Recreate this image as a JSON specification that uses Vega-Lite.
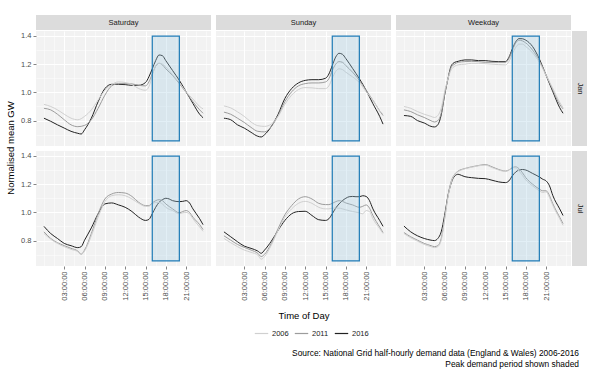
{
"$schema":"https://vega.github.io/schema/vega-lite/v6.json",
"padding":{"left":5,"top":15,"right":5,"bottom":5},
"background":"white",
"datasets":{
"peak":[{"hour":16,"hour2":20,"gw":0.657,"gw2":1.398}],
"demand":[
{"day":"Sat","month":"Jan","year":"2016","hour":0,"gw":0.817},{"day":"Sat","month":"Jan","year":"2016","hour":1,"gw":0.795},{"day":"Sat","month":"Jan","year":"2016","hour":2,"gw":0.77},{"day":"Sat","month":"Jan","year":"2016","hour":3,"gw":0.747},{"day":"Sat","month":"Jan","year":"2016","hour":4,"gw":0.724},{"day":"Sat","month":"Jan","year":"2016","hour":5,"gw":0.71},{"day":"Sat","month":"Jan","year":"2016","hour":5.5,"gw":0.705},{"day":"Sat","month":"Jan","year":"2016","hour":6,"gw":0.735},{"day":"Sat","month":"Jan","year":"2016","hour":7,"gw":0.817},{"day":"Sat","month":"Jan","year":"2016","hour":8,"gw":0.934},{"day":"Sat","month":"Jan","year":"2016","hour":9,"gw":1.027},{"day":"Sat","month":"Jan","year":"2016","hour":10,"gw":1.057},{"day":"Sat","month":"Jan","year":"2016","hour":11,"gw":1.057},{"day":"Sat","month":"Jan","year":"2016","hour":12,"gw":1.055},{"day":"Sat","month":"Jan","year":"2016","hour":13,"gw":1.05},{"day":"Sat","month":"Jan","year":"2016","hour":14,"gw":1.05},{"day":"Sat","month":"Jan","year":"2016","hour":15,"gw":1.07},{"day":"Sat","month":"Jan","year":"2016","hour":15.5,"gw":1.11},{"day":"Sat","month":"Jan","year":"2016","hour":16,"gw":1.167},{"day":"Sat","month":"Jan","year":"2016","hour":16.5,"gw":1.225},{"day":"Sat","month":"Jan","year":"2016","hour":17,"gw":1.265},{"day":"Sat","month":"Jan","year":"2016","hour":17.5,"gw":1.26},{"day":"Sat","month":"Jan","year":"2016","hour":18,"gw":1.225},{"day":"Sat","month":"Jan","year":"2016","hour":19,"gw":1.155},{"day":"Sat","month":"Jan","year":"2016","hour":20,"gw":1.085},{"day":"Sat","month":"Jan","year":"2016","hour":21,"gw":1.004},{"day":"Sat","month":"Jan","year":"2016","hour":22,"gw":0.922},{"day":"Sat","month":"Jan","year":"2016","hour":23,"gw":0.845},{"day":"Sat","month":"Jan","year":"2016","hour":23.5,"gw":0.82},
{"day":"Sat","month":"Jan","year":"2011","hour":0,"gw":0.887},{"day":"Sat","month":"Jan","year":"2011","hour":1,"gw":0.876},{"day":"Sat","month":"Jan","year":"2011","hour":2,"gw":0.845},{"day":"Sat","month":"Jan","year":"2011","hour":3,"gw":0.806},{"day":"Sat","month":"Jan","year":"2011","hour":4,"gw":0.77},{"day":"Sat","month":"Jan","year":"2011","hour":5,"gw":0.757},{"day":"Sat","month":"Jan","year":"2011","hour":6,"gw":0.766},{"day":"Sat","month":"Jan","year":"2011","hour":7,"gw":0.806},{"day":"Sat","month":"Jan","year":"2011","hour":8,"gw":0.887},{"day":"Sat","month":"Jan","year":"2011","hour":9,"gw":0.98},{"day":"Sat","month":"Jan","year":"2011","hour":10,"gw":1.046},{"day":"Sat","month":"Jan","year":"2011","hour":11,"gw":1.062},{"day":"Sat","month":"Jan","year":"2011","hour":12,"gw":1.062},{"day":"Sat","month":"Jan","year":"2011","hour":13,"gw":1.06},{"day":"Sat","month":"Jan","year":"2011","hour":14,"gw":1.05},{"day":"Sat","month":"Jan","year":"2011","hour":15,"gw":1.046},{"day":"Sat","month":"Jan","year":"2011","hour":15.5,"gw":1.074},{"day":"Sat","month":"Jan","year":"2011","hour":16,"gw":1.13},{"day":"Sat","month":"Jan","year":"2011","hour":16.5,"gw":1.185},{"day":"Sat","month":"Jan","year":"2011","hour":17,"gw":1.206},{"day":"Sat","month":"Jan","year":"2011","hour":17.5,"gw":1.195},{"day":"Sat","month":"Jan","year":"2011","hour":18,"gw":1.167},{"day":"Sat","month":"Jan","year":"2011","hour":19,"gw":1.12},{"day":"Sat","month":"Jan","year":"2011","hour":20,"gw":1.062},{"day":"Sat","month":"Jan","year":"2011","hour":21,"gw":1.0},{"day":"Sat","month":"Jan","year":"2011","hour":22,"gw":0.934},{"day":"Sat","month":"Jan","year":"2011","hour":23,"gw":0.876},{"day":"Sat","month":"Jan","year":"2011","hour":23.5,"gw":0.852},
{"day":"Sat","month":"Jan","year":"2006","hour":0,"gw":0.915},{"day":"Sat","month":"Jan","year":"2006","hour":1,"gw":0.9},{"day":"Sat","month":"Jan","year":"2006","hour":2,"gw":0.876},{"day":"Sat","month":"Jan","year":"2006","hour":3,"gw":0.845},{"day":"Sat","month":"Jan","year":"2006","hour":4,"gw":0.817},{"day":"Sat","month":"Jan","year":"2006","hour":5,"gw":0.806},{"day":"Sat","month":"Jan","year":"2006","hour":6,"gw":0.83},{"day":"Sat","month":"Jan","year":"2006","hour":7,"gw":0.876},{"day":"Sat","month":"Jan","year":"2006","hour":8,"gw":0.946},{"day":"Sat","month":"Jan","year":"2006","hour":9,"gw":1.015},{"day":"Sat","month":"Jan","year":"2006","hour":10,"gw":1.055},{"day":"Sat","month":"Jan","year":"2006","hour":11,"gw":1.074},{"day":"Sat","month":"Jan","year":"2006","hour":12,"gw":1.07},{"day":"Sat","month":"Jan","year":"2006","hour":13,"gw":1.055},{"day":"Sat","month":"Jan","year":"2006","hour":14,"gw":1.027},{"day":"Sat","month":"Jan","year":"2006","hour":15,"gw":1.015},{"day":"Sat","month":"Jan","year":"2006","hour":15.5,"gw":1.04},{"day":"Sat","month":"Jan","year":"2006","hour":16,"gw":1.12},{"day":"Sat","month":"Jan","year":"2006","hour":16.5,"gw":1.19},{"day":"Sat","month":"Jan","year":"2006","hour":17,"gw":1.206},{"day":"Sat","month":"Jan","year":"2006","hour":17.5,"gw":1.2},{"day":"Sat","month":"Jan","year":"2006","hour":18,"gw":1.18},{"day":"Sat","month":"Jan","year":"2006","hour":19,"gw":1.125},{"day":"Sat","month":"Jan","year":"2006","hour":20,"gw":1.07},{"day":"Sat","month":"Jan","year":"2006","hour":21,"gw":1.004},{"day":"Sat","month":"Jan","year":"2006","hour":22,"gw":0.953},{"day":"Sat","month":"Jan","year":"2006","hour":23,"gw":0.9},{"day":"Sat","month":"Jan","year":"2006","hour":23.5,"gw":0.883},
{"day":"Sun","month":"Jan","year":"2016","hour":0,"gw":0.817},{"day":"Sun","month":"Jan","year":"2016","hour":1,"gw":0.806},{"day":"Sun","month":"Jan","year":"2016","hour":2,"gw":0.77},{"day":"Sun","month":"Jan","year":"2016","hour":3,"gw":0.747},{"day":"Sun","month":"Jan","year":"2016","hour":4,"gw":0.717},{"day":"Sun","month":"Jan","year":"2016","hour":5,"gw":0.689},{"day":"Sun","month":"Jan","year":"2016","hour":5.5,"gw":0.684},{"day":"Sun","month":"Jan","year":"2016","hour":6,"gw":0.7},{"day":"Sun","month":"Jan","year":"2016","hour":7,"gw":0.759},{"day":"Sun","month":"Jan","year":"2016","hour":8,"gw":0.845},{"day":"Sun","month":"Jan","year":"2016","hour":9,"gw":0.957},{"day":"Sun","month":"Jan","year":"2016","hour":10,"gw":1.027},{"day":"Sun","month":"Jan","year":"2016","hour":11,"gw":1.067},{"day":"Sun","month":"Jan","year":"2016","hour":12,"gw":1.085},{"day":"Sun","month":"Jan","year":"2016","hour":13,"gw":1.09},{"day":"Sun","month":"Jan","year":"2016","hour":14,"gw":1.09},{"day":"Sun","month":"Jan","year":"2016","hour":15,"gw":1.1},{"day":"Sun","month":"Jan","year":"2016","hour":15.5,"gw":1.13},{"day":"Sun","month":"Jan","year":"2016","hour":16,"gw":1.19},{"day":"Sun","month":"Jan","year":"2016","hour":16.5,"gw":1.25},{"day":"Sun","month":"Jan","year":"2016","hour":17,"gw":1.277},{"day":"Sun","month":"Jan","year":"2016","hour":17.5,"gw":1.27},{"day":"Sun","month":"Jan","year":"2016","hour":18,"gw":1.24},{"day":"Sun","month":"Jan","year":"2016","hour":19,"gw":1.17},{"day":"Sun","month":"Jan","year":"2016","hour":20,"gw":1.097},{"day":"Sun","month":"Jan","year":"2016","hour":21,"gw":1.015},{"day":"Sun","month":"Jan","year":"2016","hour":22,"gw":0.92},{"day":"Sun","month":"Jan","year":"2016","hour":23,"gw":0.83},{"day":"Sun","month":"Jan","year":"2016","hour":23.5,"gw":0.775},
{"day":"Sun","month":"Jan","year":"2011","hour":0,"gw":0.86},{"day":"Sun","month":"Jan","year":"2011","hour":1,"gw":0.845},{"day":"Sun","month":"Jan","year":"2011","hour":2,"gw":0.817},{"day":"Sun","month":"Jan","year":"2011","hour":3,"gw":0.787},{"day":"Sun","month":"Jan","year":"2011","hour":4,"gw":0.752},{"day":"Sun","month":"Jan","year":"2011","hour":5,"gw":0.724},{"day":"Sun","month":"Jan","year":"2011","hour":6,"gw":0.72},{"day":"Sun","month":"Jan","year":"2011","hour":7,"gw":0.759},{"day":"Sun","month":"Jan","year":"2011","hour":8,"gw":0.836},{"day":"Sun","month":"Jan","year":"2011","hour":9,"gw":0.934},{"day":"Sun","month":"Jan","year":"2011","hour":10,"gw":1.004},{"day":"Sun","month":"Jan","year":"2011","hour":11,"gw":1.046},{"day":"Sun","month":"Jan","year":"2011","hour":12,"gw":1.062},{"day":"Sun","month":"Jan","year":"2011","hour":13,"gw":1.067},{"day":"Sun","month":"Jan","year":"2011","hour":14,"gw":1.067},{"day":"Sun","month":"Jan","year":"2011","hour":15,"gw":1.074},{"day":"Sun","month":"Jan","year":"2011","hour":15.5,"gw":1.097},{"day":"Sun","month":"Jan","year":"2011","hour":16,"gw":1.155},{"day":"Sun","month":"Jan","year":"2011","hour":16.5,"gw":1.2},{"day":"Sun","month":"Jan","year":"2011","hour":17,"gw":1.218},{"day":"Sun","month":"Jan","year":"2011","hour":17.5,"gw":1.213},{"day":"Sun","month":"Jan","year":"2011","hour":18,"gw":1.19},{"day":"Sun","month":"Jan","year":"2011","hour":19,"gw":1.143},{"day":"Sun","month":"Jan","year":"2011","hour":20,"gw":1.085},{"day":"Sun","month":"Jan","year":"2011","hour":21,"gw":1.015},{"day":"Sun","month":"Jan","year":"2011","hour":22,"gw":0.945},{"day":"Sun","month":"Jan","year":"2011","hour":23,"gw":0.869},{"day":"Sun","month":"Jan","year":"2011","hour":23.5,"gw":0.836},
{"day":"Sun","month":"Jan","year":"2006","hour":0,"gw":0.904},{"day":"Sun","month":"Jan","year":"2006","hour":1,"gw":0.89},{"day":"Sun","month":"Jan","year":"2006","hour":2,"gw":0.862},{"day":"Sun","month":"Jan","year":"2006","hour":3,"gw":0.83},{"day":"Sun","month":"Jan","year":"2006","hour":4,"gw":0.79},{"day":"Sun","month":"Jan","year":"2006","hour":5,"gw":0.764},{"day":"Sun","month":"Jan","year":"2006","hour":6,"gw":0.759},{"day":"Sun","month":"Jan","year":"2006","hour":7,"gw":0.775},{"day":"Sun","month":"Jan","year":"2006","hour":8,"gw":0.83},{"day":"Sun","month":"Jan","year":"2006","hour":9,"gw":0.915},{"day":"Sun","month":"Jan","year":"2006","hour":10,"gw":0.98},{"day":"Sun","month":"Jan","year":"2006","hour":11,"gw":1.02},{"day":"Sun","month":"Jan","year":"2006","hour":12,"gw":1.034},{"day":"Sun","month":"Jan","year":"2006","hour":13,"gw":1.032},{"day":"Sun","month":"Jan","year":"2006","hour":14,"gw":1.027},{"day":"Sun","month":"Jan","year":"2006","hour":15,"gw":1.027},{"day":"Sun","month":"Jan","year":"2006","hour":15.5,"gw":1.046},{"day":"Sun","month":"Jan","year":"2006","hour":16,"gw":1.1},{"day":"Sun","month":"Jan","year":"2006","hour":16.5,"gw":1.148},{"day":"Sun","month":"Jan","year":"2006","hour":17,"gw":1.167},{"day":"Sun","month":"Jan","year":"2006","hour":17.5,"gw":1.162},{"day":"Sun","month":"Jan","year":"2006","hour":18,"gw":1.143},{"day":"Sun","month":"Jan","year":"2006","hour":19,"gw":1.11},{"day":"Sun","month":"Jan","year":"2006","hour":20,"gw":1.07},{"day":"Sun","month":"Jan","year":"2006","hour":21,"gw":1.004},{"day":"Sun","month":"Jan","year":"2006","hour":22,"gw":0.945},{"day":"Sun","month":"Jan","year":"2006","hour":23,"gw":0.869},{"day":"Sun","month":"Jan","year":"2006","hour":23.5,"gw":0.845},
{"day":"Wkd","month":"Jan","year":"2016","hour":0,"gw":0.836},{"day":"Wkd","month":"Jan","year":"2016","hour":1,"gw":0.83},{"day":"Wkd","month":"Jan","year":"2016","hour":2,"gw":0.8},{"day":"Wkd","month":"Jan","year":"2016","hour":3,"gw":0.783},{"day":"Wkd","month":"Jan","year":"2016","hour":4,"gw":0.759},{"day":"Wkd","month":"Jan","year":"2016","hour":4.5,"gw":0.755},{"day":"Wkd","month":"Jan","year":"2016","hour":5,"gw":0.77},{"day":"Wkd","month":"Jan","year":"2016","hour":5.5,"gw":0.84},{"day":"Wkd","month":"Jan","year":"2016","hour":6,"gw":0.98},{"day":"Wkd","month":"Jan","year":"2016","hour":6.5,"gw":1.097},{"day":"Wkd","month":"Jan","year":"2016","hour":7,"gw":1.19},{"day":"Wkd","month":"Jan","year":"2016","hour":7.5,"gw":1.213},{"day":"Wkd","month":"Jan","year":"2016","hour":8,"gw":1.22},{"day":"Wkd","month":"Jan","year":"2016","hour":9,"gw":1.23},{"day":"Wkd","month":"Jan","year":"2016","hour":10,"gw":1.23},{"day":"Wkd","month":"Jan","year":"2016","hour":11,"gw":1.225},{"day":"Wkd","month":"Jan","year":"2016","hour":12,"gw":1.225},{"day":"Wkd","month":"Jan","year":"2016","hour":13,"gw":1.22},{"day":"Wkd","month":"Jan","year":"2016","hour":14,"gw":1.218},{"day":"Wkd","month":"Jan","year":"2016","hour":15,"gw":1.218},{"day":"Wkd","month":"Jan","year":"2016","hour":15.5,"gw":1.248},{"day":"Wkd","month":"Jan","year":"2016","hour":16,"gw":1.307},{"day":"Wkd","month":"Jan","year":"2016","hour":16.5,"gw":1.358},{"day":"Wkd","month":"Jan","year":"2016","hour":17,"gw":1.381},{"day":"Wkd","month":"Jan","year":"2016","hour":17.5,"gw":1.38},{"day":"Wkd","month":"Jan","year":"2016","hour":18,"gw":1.37},{"day":"Wkd","month":"Jan","year":"2016","hour":19,"gw":1.325},{"day":"Wkd","month":"Jan","year":"2016","hour":20,"gw":1.237},{"day":"Wkd","month":"Jan","year":"2016","hour":21,"gw":1.12},{"day":"Wkd","month":"Jan","year":"2016","hour":22,"gw":1.004},{"day":"Wkd","month":"Jan","year":"2016","hour":23,"gw":0.892},{"day":"Wkd","month":"Jan","year":"2016","hour":23.5,"gw":0.852},
{"day":"Wkd","month":"Jan","year":"2011","hour":0,"gw":0.876},{"day":"Wkd","month":"Jan","year":"2011","hour":1,"gw":0.864},{"day":"Wkd","month":"Jan","year":"2011","hour":2,"gw":0.841},{"day":"Wkd","month":"Jan","year":"2011","hour":3,"gw":0.822},{"day":"Wkd","month":"Jan","year":"2011","hour":4,"gw":0.799},{"day":"Wkd","month":"Jan","year":"2011","hour":4.5,"gw":0.79},{"day":"Wkd","month":"Jan","year":"2011","hour":5,"gw":0.8},{"day":"Wkd","month":"Jan","year":"2011","hour":5.5,"gw":0.85},{"day":"Wkd","month":"Jan","year":"2011","hour":6,"gw":0.98},{"day":"Wkd","month":"Jan","year":"2011","hour":6.5,"gw":1.097},{"day":"Wkd","month":"Jan","year":"2011","hour":7,"gw":1.18},{"day":"Wkd","month":"Jan","year":"2011","hour":7.5,"gw":1.2},{"day":"Wkd","month":"Jan","year":"2011","hour":8,"gw":1.213},{"day":"Wkd","month":"Jan","year":"2011","hour":9,"gw":1.218},{"day":"Wkd","month":"Jan","year":"2011","hour":10,"gw":1.22},{"day":"Wkd","month":"Jan","year":"2011","hour":11,"gw":1.218},{"day":"Wkd","month":"Jan","year":"2011","hour":12,"gw":1.213},{"day":"Wkd","month":"Jan","year":"2011","hour":13,"gw":1.213},{"day":"Wkd","month":"Jan","year":"2011","hour":14,"gw":1.213},{"day":"Wkd","month":"Jan","year":"2011","hour":15,"gw":1.213},{"day":"Wkd","month":"Jan","year":"2011","hour":15.5,"gw":1.24},{"day":"Wkd","month":"Jan","year":"2011","hour":16,"gw":1.295},{"day":"Wkd","month":"Jan","year":"2011","hour":16.5,"gw":1.35},{"day":"Wkd","month":"Jan","year":"2011","hour":17,"gw":1.37},{"day":"Wkd","month":"Jan","year":"2011","hour":17.5,"gw":1.365},{"day":"Wkd","month":"Jan","year":"2011","hour":18,"gw":1.35},{"day":"Wkd","month":"Jan","year":"2011","hour":19,"gw":1.3},{"day":"Wkd","month":"Jan","year":"2011","hour":20,"gw":1.225},{"day":"Wkd","month":"Jan","year":"2011","hour":21,"gw":1.125},{"day":"Wkd","month":"Jan","year":"2011","hour":22,"gw":1.015},{"day":"Wkd","month":"Jan","year":"2011","hour":23,"gw":0.915},{"day":"Wkd","month":"Jan","year":"2011","hour":23.5,"gw":0.883},
{"day":"Wkd","month":"Jan","year":"2006","hour":0,"gw":0.9},{"day":"Wkd","month":"Jan","year":"2006","hour":1,"gw":0.887},{"day":"Wkd","month":"Jan","year":"2006","hour":2,"gw":0.864},{"day":"Wkd","month":"Jan","year":"2006","hour":3,"gw":0.845},{"day":"Wkd","month":"Jan","year":"2006","hour":4,"gw":0.83},{"day":"Wkd","month":"Jan","year":"2006","hour":4.5,"gw":0.822},{"day":"Wkd","month":"Jan","year":"2006","hour":5,"gw":0.836},{"day":"Wkd","month":"Jan","year":"2006","hour":5.5,"gw":0.887},{"day":"Wkd","month":"Jan","year":"2006","hour":6,"gw":1.004},{"day":"Wkd","month":"Jan","year":"2006","hour":6.5,"gw":1.097},{"day":"Wkd","month":"Jan","year":"2006","hour":7,"gw":1.162},{"day":"Wkd","month":"Jan","year":"2006","hour":7.5,"gw":1.185},{"day":"Wkd","month":"Jan","year":"2006","hour":8,"gw":1.195},{"day":"Wkd","month":"Jan","year":"2006","hour":9,"gw":1.2},{"day":"Wkd","month":"Jan","year":"2006","hour":10,"gw":1.206},{"day":"Wkd","month":"Jan","year":"2006","hour":11,"gw":1.206},{"day":"Wkd","month":"Jan","year":"2006","hour":12,"gw":1.204},{"day":"Wkd","month":"Jan","year":"2006","hour":13,"gw":1.2},{"day":"Wkd","month":"Jan","year":"2006","hour":14,"gw":1.197},{"day":"Wkd","month":"Jan","year":"2006","hour":15,"gw":1.195},{"day":"Wkd","month":"Jan","year":"2006","hour":15.5,"gw":1.218},{"day":"Wkd","month":"Jan","year":"2006","hour":16,"gw":1.272},{"day":"Wkd","month":"Jan","year":"2006","hour":16.5,"gw":1.318},{"day":"Wkd","month":"Jan","year":"2006","hour":17,"gw":1.342},{"day":"Wkd","month":"Jan","year":"2006","hour":17.5,"gw":1.342},{"day":"Wkd","month":"Jan","year":"2006","hour":18,"gw":1.325},{"day":"Wkd","month":"Jan","year":"2006","hour":19,"gw":1.28},{"day":"Wkd","month":"Jan","year":"2006","hour":20,"gw":1.213},{"day":"Wkd","month":"Jan","year":"2006","hour":21,"gw":1.12},{"day":"Wkd","month":"Jan","year":"2006","hour":22,"gw":1.027},{"day":"Wkd","month":"Jan","year":"2006","hour":23,"gw":0.93},{"day":"Wkd","month":"Jan","year":"2006","hour":23.5,"gw":0.892},
{"day":"Sat","month":"Jul","year":"2016","hour":0,"gw":0.901},{"day":"Sat","month":"Jul","year":"2016","hour":1,"gw":0.85},{"day":"Sat","month":"Jul","year":"2016","hour":2,"gw":0.815},{"day":"Sat","month":"Jul","year":"2016","hour":3,"gw":0.78},{"day":"Sat","month":"Jul","year":"2016","hour":4,"gw":0.764},{"day":"Sat","month":"Jul","year":"2016","hour":5,"gw":0.75},{"day":"Sat","month":"Jul","year":"2016","hour":5.5,"gw":0.757},{"day":"Sat","month":"Jul","year":"2016","hour":6,"gw":0.803},{"day":"Sat","month":"Jul","year":"2016","hour":7,"gw":0.89},{"day":"Sat","month":"Jul","year":"2016","hour":8,"gw":0.99},{"day":"Sat","month":"Jul","year":"2016","hour":9,"gw":1.06},{"day":"Sat","month":"Jul","year":"2016","hour":10,"gw":1.067},{"day":"Sat","month":"Jul","year":"2016","hour":11,"gw":1.053},{"day":"Sat","month":"Jul","year":"2016","hour":12,"gw":1.036},{"day":"Sat","month":"Jul","year":"2016","hour":13,"gw":1.006},{"day":"Sat","month":"Jul","year":"2016","hour":14,"gw":0.966},{"day":"Sat","month":"Jul","year":"2016","hour":15,"gw":0.943},{"day":"Sat","month":"Jul","year":"2016","hour":15.5,"gw":0.95},{"day":"Sat","month":"Jul","year":"2016","hour":16,"gw":0.99},{"day":"Sat","month":"Jul","year":"2016","hour":16.5,"gw":1.036},{"day":"Sat","month":"Jul","year":"2016","hour":17,"gw":1.071},{"day":"Sat","month":"Jul","year":"2016","hour":17.5,"gw":1.09},{"day":"Sat","month":"Jul","year":"2016","hour":18,"gw":1.1},{"day":"Sat","month":"Jul","year":"2016","hour":18.5,"gw":1.095},{"day":"Sat","month":"Jul","year":"2016","hour":19,"gw":1.083},{"day":"Sat","month":"Jul","year":"2016","hour":20,"gw":1.076},{"day":"Sat","month":"Jul","year":"2016","hour":20.5,"gw":1.078},{"day":"Sat","month":"Jul","year":"2016","hour":21,"gw":1.083},{"day":"Sat","month":"Jul","year":"2016","hour":21.5,"gw":1.067},{"day":"Sat","month":"Jul","year":"2016","hour":22,"gw":1.025},{"day":"Sat","month":"Jul","year":"2016","hour":23,"gw":0.955},{"day":"Sat","month":"Jul","year":"2016","hour":23.5,"gw":0.913},
{"day":"Sat","month":"Jul","year":"2011","hour":0,"gw":0.862},{"day":"Sat","month":"Jul","year":"2011","hour":1,"gw":0.815},{"day":"Sat","month":"Jul","year":"2011","hour":2,"gw":0.785},{"day":"Sat","month":"Jul","year":"2011","hour":3,"gw":0.764},{"day":"Sat","month":"Jul","year":"2011","hour":4,"gw":0.745},{"day":"Sat","month":"Jul","year":"2011","hour":5,"gw":0.726},{"day":"Sat","month":"Jul","year":"2011","hour":5.5,"gw":0.703},{"day":"Sat","month":"Jul","year":"2011","hour":6,"gw":0.733},{"day":"Sat","month":"Jul","year":"2011","hour":7,"gw":0.85},{"day":"Sat","month":"Jul","year":"2011","hour":8,"gw":0.99},{"day":"Sat","month":"Jul","year":"2011","hour":9,"gw":1.095},{"day":"Sat","month":"Jul","year":"2011","hour":10,"gw":1.13},{"day":"Sat","month":"Jul","year":"2011","hour":11,"gw":1.141},{"day":"Sat","month":"Jul","year":"2011","hour":12,"gw":1.137},{"day":"Sat","month":"Jul","year":"2011","hour":13,"gw":1.113},{"day":"Sat","month":"Jul","year":"2011","hour":14,"gw":1.071},{"day":"Sat","month":"Jul","year":"2011","hour":15,"gw":1.048},{"day":"Sat","month":"Jul","year":"2011","hour":15.5,"gw":1.048},{"day":"Sat","month":"Jul","year":"2011","hour":16,"gw":1.067},{"day":"Sat","month":"Jul","year":"2011","hour":16.5,"gw":1.083},{"day":"Sat","month":"Jul","year":"2011","hour":17,"gw":1.09},{"day":"Sat","month":"Jul","year":"2011","hour":17.5,"gw":1.083},{"day":"Sat","month":"Jul","year":"2011","hour":18,"gw":1.06},{"day":"Sat","month":"Jul","year":"2011","hour":19,"gw":1.025},{"day":"Sat","month":"Jul","year":"2011","hour":20,"gw":0.997},{"day":"Sat","month":"Jul","year":"2011","hour":20.5,"gw":1.006},{"day":"Sat","month":"Jul","year":"2011","hour":21,"gw":1.013},{"day":"Sat","month":"Jul","year":"2011","hour":21.5,"gw":1.0},{"day":"Sat","month":"Jul","year":"2011","hour":22,"gw":0.966},{"day":"Sat","month":"Jul","year":"2011","hour":23,"gw":0.913},{"day":"Sat","month":"Jul","year":"2011","hour":23.5,"gw":0.878},
{"day":"Sat","month":"Jul","year":"2006","hour":0,"gw":0.85},{"day":"Sat","month":"Jul","year":"2006","hour":1,"gw":0.81},{"day":"Sat","month":"Jul","year":"2006","hour":2,"gw":0.78},{"day":"Sat","month":"Jul","year":"2006","hour":3,"gw":0.757},{"day":"Sat","month":"Jul","year":"2006","hour":4,"gw":0.738},{"day":"Sat","month":"Jul","year":"2006","hour":5,"gw":0.722},{"day":"Sat","month":"Jul","year":"2006","hour":5.5,"gw":0.703},{"day":"Sat","month":"Jul","year":"2006","hour":6,"gw":0.726},{"day":"Sat","month":"Jul","year":"2006","hour":7,"gw":0.834},{"day":"Sat","month":"Jul","year":"2006","hour":8,"gw":0.966},{"day":"Sat","month":"Jul","year":"2006","hour":9,"gw":1.076},{"day":"Sat","month":"Jul","year":"2006","hour":10,"gw":1.118},{"day":"Sat","month":"Jul","year":"2006","hour":11,"gw":1.125},{"day":"Sat","month":"Jul","year":"2006","hour":12,"gw":1.118},{"day":"Sat","month":"Jul","year":"2006","hour":13,"gw":1.095},{"day":"Sat","month":"Jul","year":"2006","hour":14,"gw":1.064},{"day":"Sat","month":"Jul","year":"2006","hour":15,"gw":1.043},{"day":"Sat","month":"Jul","year":"2006","hour":15.5,"gw":1.043},{"day":"Sat","month":"Jul","year":"2006","hour":16,"gw":1.06},{"day":"Sat","month":"Jul","year":"2006","hour":16.5,"gw":1.071},{"day":"Sat","month":"Jul","year":"2006","hour":17,"gw":1.071},{"day":"Sat","month":"Jul","year":"2006","hour":17.5,"gw":1.06},{"day":"Sat","month":"Jul","year":"2006","hour":18,"gw":1.036},{"day":"Sat","month":"Jul","year":"2006","hour":19,"gw":1.013},{"day":"Sat","month":"Jul","year":"2006","hour":20,"gw":0.99},{"day":"Sat","month":"Jul","year":"2006","hour":20.5,"gw":0.997},{"day":"Sat","month":"Jul","year":"2006","hour":21,"gw":1.0},{"day":"Sat","month":"Jul","year":"2006","hour":21.5,"gw":0.99},{"day":"Sat","month":"Jul","year":"2006","hour":22,"gw":0.955},{"day":"Sat","month":"Jul","year":"2006","hour":23,"gw":0.896},{"day":"Sat","month":"Jul","year":"2006","hour":23.5,"gw":0.866},
{"day":"Sun","month":"Jul","year":"2016","hour":0,"gw":0.862},{"day":"Sun","month":"Jul","year":"2016","hour":1,"gw":0.827},{"day":"Sun","month":"Jul","year":"2016","hour":2,"gw":0.792},{"day":"Sun","month":"Jul","year":"2016","hour":3,"gw":0.761},{"day":"Sun","month":"Jul","year":"2016","hour":4,"gw":0.745},{"day":"Sun","month":"Jul","year":"2016","hour":5,"gw":0.726},{"day":"Sun","month":"Jul","year":"2016","hour":5.5,"gw":0.71},{"day":"Sun","month":"Jul","year":"2016","hour":6,"gw":0.733},{"day":"Sun","month":"Jul","year":"2016","hour":7,"gw":0.796},{"day":"Sun","month":"Jul","year":"2016","hour":8,"gw":0.873},{"day":"Sun","month":"Jul","year":"2016","hour":9,"gw":0.943},{"day":"Sun","month":"Jul","year":"2016","hour":10,"gw":0.99},{"day":"Sun","month":"Jul","year":"2016","hour":11,"gw":1.006},{"day":"Sun","month":"Jul","year":"2016","hour":12,"gw":1.008},{"day":"Sun","month":"Jul","year":"2016","hour":13,"gw":0.978},{"day":"Sun","month":"Jul","year":"2016","hour":14,"gw":0.948},{"day":"Sun","month":"Jul","year":"2016","hour":15,"gw":0.943},{"day":"Sun","month":"Jul","year":"2016","hour":15.5,"gw":0.955},{"day":"Sun","month":"Jul","year":"2016","hour":16,"gw":0.99},{"day":"Sun","month":"Jul","year":"2016","hour":16.5,"gw":1.03},{"day":"Sun","month":"Jul","year":"2016","hour":17,"gw":1.06},{"day":"Sun","month":"Jul","year":"2016","hour":17.5,"gw":1.083},{"day":"Sun","month":"Jul","year":"2016","hour":18,"gw":1.1},{"day":"Sun","month":"Jul","year":"2016","hour":18.5,"gw":1.111},{"day":"Sun","month":"Jul","year":"2016","hour":19,"gw":1.113},{"day":"Sun","month":"Jul","year":"2016","hour":19.5,"gw":1.111},{"day":"Sun","month":"Jul","year":"2016","hour":20,"gw":1.111},{"day":"Sun","month":"Jul","year":"2016","hour":20.5,"gw":1.118},{"day":"Sun","month":"Jul","year":"2016","hour":21,"gw":1.113},{"day":"Sun","month":"Jul","year":"2016","hour":21.5,"gw":1.083},{"day":"Sun","month":"Jul","year":"2016","hour":22,"gw":1.025},{"day":"Sun","month":"Jul","year":"2016","hour":23,"gw":0.943},{"day":"Sun","month":"Jul","year":"2016","hour":23.5,"gw":0.901},
{"day":"Sun","month":"Jul","year":"2011","hour":0,"gw":0.834},{"day":"Sun","month":"Jul","year":"2011","hour":1,"gw":0.803},{"day":"Sun","month":"Jul","year":"2011","hour":2,"gw":0.773},{"day":"Sun","month":"Jul","year":"2011","hour":3,"gw":0.752},{"day":"Sun","month":"Jul","year":"2011","hour":4,"gw":0.733},{"day":"Sun","month":"Jul","year":"2011","hour":5,"gw":0.71},{"day":"Sun","month":"Jul","year":"2011","hour":5.5,"gw":0.687},{"day":"Sun","month":"Jul","year":"2011","hour":6,"gw":0.703},{"day":"Sun","month":"Jul","year":"2011","hour":7,"gw":0.78},{"day":"Sun","month":"Jul","year":"2011","hour":8,"gw":0.885},{"day":"Sun","month":"Jul","year":"2011","hour":9,"gw":0.983},{"day":"Sun","month":"Jul","year":"2011","hour":10,"gw":1.048},{"day":"Sun","month":"Jul","year":"2011","hour":11,"gw":1.095},{"day":"Sun","month":"Jul","year":"2011","hour":12,"gw":1.111},{"day":"Sun","month":"Jul","year":"2011","hour":13,"gw":1.095},{"day":"Sun","month":"Jul","year":"2011","hour":14,"gw":1.064},{"day":"Sun","month":"Jul","year":"2011","hour":15,"gw":1.055},{"day":"Sun","month":"Jul","year":"2011","hour":15.5,"gw":1.055},{"day":"Sun","month":"Jul","year":"2011","hour":16,"gw":1.064},{"day":"Sun","month":"Jul","year":"2011","hour":16.5,"gw":1.076},{"day":"Sun","month":"Jul","year":"2011","hour":17,"gw":1.083},{"day":"Sun","month":"Jul","year":"2011","hour":17.5,"gw":1.078},{"day":"Sun","month":"Jul","year":"2011","hour":18,"gw":1.067},{"day":"Sun","month":"Jul","year":"2011","hour":19,"gw":1.053},{"day":"Sun","month":"Jul","year":"2011","hour":20,"gw":1.036},{"day":"Sun","month":"Jul","year":"2011","hour":20.5,"gw":1.043},{"day":"Sun","month":"Jul","year":"2011","hour":21,"gw":1.053},{"day":"Sun","month":"Jul","year":"2011","hour":21.5,"gw":1.03},{"day":"Sun","month":"Jul","year":"2011","hour":22,"gw":0.978},{"day":"Sun","month":"Jul","year":"2011","hour":23,"gw":0.896},{"day":"Sun","month":"Jul","year":"2011","hour":23.5,"gw":0.857},
{"day":"Sun","month":"Jul","year":"2006","hour":0,"gw":0.815},{"day":"Sun","month":"Jul","year":"2006","hour":1,"gw":0.785},{"day":"Sun","month":"Jul","year":"2006","hour":2,"gw":0.757},{"day":"Sun","month":"Jul","year":"2006","hour":3,"gw":0.733},{"day":"Sun","month":"Jul","year":"2006","hour":4,"gw":0.717},{"day":"Sun","month":"Jul","year":"2006","hour":5,"gw":0.698},{"day":"Sun","month":"Jul","year":"2006","hour":5.5,"gw":0.668},{"day":"Sun","month":"Jul","year":"2006","hour":6,"gw":0.687},{"day":"Sun","month":"Jul","year":"2006","hour":7,"gw":0.768},{"day":"Sun","month":"Jul","year":"2006","hour":8,"gw":0.873},{"day":"Sun","month":"Jul","year":"2006","hour":9,"gw":0.966},{"day":"Sun","month":"Jul","year":"2006","hour":10,"gw":1.025},{"day":"Sun","month":"Jul","year":"2006","hour":11,"gw":1.064},{"day":"Sun","month":"Jul","year":"2006","hour":12,"gw":1.078},{"day":"Sun","month":"Jul","year":"2006","hour":13,"gw":1.064},{"day":"Sun","month":"Jul","year":"2006","hour":14,"gw":1.036},{"day":"Sun","month":"Jul","year":"2006","hour":15,"gw":1.025},{"day":"Sun","month":"Jul","year":"2006","hour":15.5,"gw":1.025},{"day":"Sun","month":"Jul","year":"2006","hour":16,"gw":1.03},{"day":"Sun","month":"Jul","year":"2006","hour":16.5,"gw":1.03},{"day":"Sun","month":"Jul","year":"2006","hour":17,"gw":1.03},{"day":"Sun","month":"Jul","year":"2006","hour":17.5,"gw":1.025},{"day":"Sun","month":"Jul","year":"2006","hour":18,"gw":1.018},{"day":"Sun","month":"Jul","year":"2006","hour":19,"gw":1.006},{"day":"Sun","month":"Jul","year":"2006","hour":20,"gw":0.997},{"day":"Sun","month":"Jul","year":"2006","hour":20.5,"gw":0.99},{"day":"Sun","month":"Jul","year":"2006","hour":21,"gw":1.013},{"day":"Sun","month":"Jul","year":"2006","hour":21.5,"gw":1.006},{"day":"Sun","month":"Jul","year":"2006","hour":22,"gw":0.955},{"day":"Sun","month":"Jul","year":"2006","hour":23,"gw":0.885},{"day":"Sun","month":"Jul","year":"2006","hour":23.5,"gw":0.85},
{"day":"Wkd","month":"Jul","year":"2016","hour":0,"gw":0.903},{"day":"Wkd","month":"Jul","year":"2016","hour":1,"gw":0.862},{"day":"Wkd","month":"Jul","year":"2016","hour":2,"gw":0.834},{"day":"Wkd","month":"Jul","year":"2016","hour":3,"gw":0.815},{"day":"Wkd","month":"Jul","year":"2016","hour":4,"gw":0.803},{"day":"Wkd","month":"Jul","year":"2016","hour":4.5,"gw":0.8},{"day":"Wkd","month":"Jul","year":"2016","hour":5,"gw":0.815},{"day":"Wkd","month":"Jul","year":"2016","hour":5.5,"gw":0.862},{"day":"Wkd","month":"Jul","year":"2016","hour":6,"gw":0.978},{"day":"Wkd","month":"Jul","year":"2016","hour":6.5,"gw":1.118},{"day":"Wkd","month":"Jul","year":"2016","hour":7,"gw":1.211},{"day":"Wkd","month":"Jul","year":"2016","hour":7.5,"gw":1.258},{"day":"Wkd","month":"Jul","year":"2016","hour":8,"gw":1.27},{"day":"Wkd","month":"Jul","year":"2016","hour":8.5,"gw":1.262},{"day":"Wkd","month":"Jul","year":"2016","hour":9,"gw":1.253},{"day":"Wkd","month":"Jul","year":"2016","hour":10,"gw":1.246},{"day":"Wkd","month":"Jul","year":"2016","hour":11,"gw":1.241},{"day":"Wkd","month":"Jul","year":"2016","hour":12,"gw":1.239},{"day":"Wkd","month":"Jul","year":"2016","hour":13,"gw":1.228},{"day":"Wkd","month":"Jul","year":"2016","hour":14,"gw":1.216},{"day":"Wkd","month":"Jul","year":"2016","hour":15,"gw":1.211},{"day":"Wkd","month":"Jul","year":"2016","hour":15.5,"gw":1.223},{"day":"Wkd","month":"Jul","year":"2016","hour":16,"gw":1.258},{"day":"Wkd","month":"Jul","year":"2016","hour":16.5,"gw":1.286},{"day":"Wkd","month":"Jul","year":"2016","hour":17,"gw":1.3},{"day":"Wkd","month":"Jul","year":"2016","hour":17.5,"gw":1.304},{"day":"Wkd","month":"Jul","year":"2016","hour":18,"gw":1.3},{"day":"Wkd","month":"Jul","year":"2016","hour":19,"gw":1.276},{"day":"Wkd","month":"Jul","year":"2016","hour":20,"gw":1.251},{"day":"Wkd","month":"Jul","year":"2016","hour":20.5,"gw":1.235},{"day":"Wkd","month":"Jul","year":"2016","hour":21,"gw":1.223},{"day":"Wkd","month":"Jul","year":"2016","hour":21.5,"gw":1.188},{"day":"Wkd","month":"Jul","year":"2016","hour":22,"gw":1.118},{"day":"Wkd","month":"Jul","year":"2016","hour":23,"gw":1.025},{"day":"Wkd","month":"Jul","year":"2016","hour":23.5,"gw":0.978},
{"day":"Wkd","month":"Jul","year":"2011","hour":0,"gw":0.857},{"day":"Wkd","month":"Jul","year":"2011","hour":1,"gw":0.827},{"day":"Wkd","month":"Jul","year":"2011","hour":2,"gw":0.803},{"day":"Wkd","month":"Jul","year":"2011","hour":3,"gw":0.78},{"day":"Wkd","month":"Jul","year":"2011","hour":4,"gw":0.764},{"day":"Wkd","month":"Jul","year":"2011","hour":4.5,"gw":0.757},{"day":"Wkd","month":"Jul","year":"2011","hour":5,"gw":0.764},{"day":"Wkd","month":"Jul","year":"2011","hour":5.5,"gw":0.815},{"day":"Wkd","month":"Jul","year":"2011","hour":6,"gw":0.955},{"day":"Wkd","month":"Jul","year":"2011","hour":6.5,"gw":1.118},{"day":"Wkd","month":"Jul","year":"2011","hour":7,"gw":1.223},{"day":"Wkd","month":"Jul","year":"2011","hour":7.5,"gw":1.27},{"day":"Wkd","month":"Jul","year":"2011","hour":8,"gw":1.293},{"day":"Wkd","month":"Jul","year":"2011","hour":8.5,"gw":1.304},{"day":"Wkd","month":"Jul","year":"2011","hour":9,"gw":1.311},{"day":"Wkd","month":"Jul","year":"2011","hour":10,"gw":1.323},{"day":"Wkd","month":"Jul","year":"2011","hour":11,"gw":1.332},{"day":"Wkd","month":"Jul","year":"2011","hour":12,"gw":1.339},{"day":"Wkd","month":"Jul","year":"2011","hour":13,"gw":1.323},{"day":"Wkd","month":"Jul","year":"2011","hour":14,"gw":1.304},{"day":"Wkd","month":"Jul","year":"2011","hour":15,"gw":1.293},{"day":"Wkd","month":"Jul","year":"2011","hour":15.5,"gw":1.3},{"day":"Wkd","month":"Jul","year":"2011","hour":16,"gw":1.316},{"day":"Wkd","month":"Jul","year":"2011","hour":16.5,"gw":1.323},{"day":"Wkd","month":"Jul","year":"2011","hour":17,"gw":1.309},{"day":"Wkd","month":"Jul","year":"2011","hour":17.5,"gw":1.281},{"day":"Wkd","month":"Jul","year":"2011","hour":18,"gw":1.246},{"day":"Wkd","month":"Jul","year":"2011","hour":19,"gw":1.2},{"day":"Wkd","month":"Jul","year":"2011","hour":20,"gw":1.165},{"day":"Wkd","month":"Jul","year":"2011","hour":20.5,"gw":1.153},{"day":"Wkd","month":"Jul","year":"2011","hour":21,"gw":1.153},{"day":"Wkd","month":"Jul","year":"2011","hour":21.5,"gw":1.118},{"day":"Wkd","month":"Jul","year":"2011","hour":22,"gw":1.06},{"day":"Wkd","month":"Jul","year":"2011","hour":23,"gw":0.966},{"day":"Wkd","month":"Jul","year":"2011","hour":23.5,"gw":0.92},
{"day":"Wkd","month":"Jul","year":"2006","hour":0,"gw":0.85},{"day":"Wkd","month":"Jul","year":"2006","hour":1,"gw":0.82},{"day":"Wkd","month":"Jul","year":"2006","hour":2,"gw":0.796},{"day":"Wkd","month":"Jul","year":"2006","hour":3,"gw":0.773},{"day":"Wkd","month":"Jul","year":"2006","hour":4,"gw":0.757},{"day":"Wkd","month":"Jul","year":"2006","hour":4.5,"gw":0.75},{"day":"Wkd","month":"Jul","year":"2006","hour":5,"gw":0.757},{"day":"Wkd","month":"Jul","year":"2006","hour":5.5,"gw":0.803},{"day":"Wkd","month":"Jul","year":"2006","hour":6,"gw":0.943},{"day":"Wkd","month":"Jul","year":"2006","hour":6.5,"gw":1.106},{"day":"Wkd","month":"Jul","year":"2006","hour":7,"gw":1.216},{"day":"Wkd","month":"Jul","year":"2006","hour":7.5,"gw":1.267},{"day":"Wkd","month":"Jul","year":"2006","hour":8,"gw":1.29},{"day":"Wkd","month":"Jul","year":"2006","hour":8.5,"gw":1.3},{"day":"Wkd","month":"Jul","year":"2006","hour":9,"gw":1.309},{"day":"Wkd","month":"Jul","year":"2006","hour":10,"gw":1.32},{"day":"Wkd","month":"Jul","year":"2006","hour":11,"gw":1.33},{"day":"Wkd","month":"Jul","year":"2006","hour":12,"gw":1.335},{"day":"Wkd","month":"Jul","year":"2006","hour":13,"gw":1.318},{"day":"Wkd","month":"Jul","year":"2006","hour":14,"gw":1.3},{"day":"Wkd","month":"Jul","year":"2006","hour":15,"gw":1.29},{"day":"Wkd","month":"Jul","year":"2006","hour":15.5,"gw":1.3},{"day":"Wkd","month":"Jul","year":"2006","hour":16,"gw":1.318},{"day":"Wkd","month":"Jul","year":"2006","hour":16.5,"gw":1.316},{"day":"Wkd","month":"Jul","year":"2006","hour":17,"gw":1.293},{"day":"Wkd","month":"Jul","year":"2006","hour":17.5,"gw":1.262},{"day":"Wkd","month":"Jul","year":"2006","hour":18,"gw":1.23},{"day":"Wkd","month":"Jul","year":"2006","hour":19,"gw":1.188},{"day":"Wkd","month":"Jul","year":"2006","hour":20,"gw":1.153},{"day":"Wkd","month":"Jul","year":"2006","hour":20.5,"gw":1.141},{"day":"Wkd","month":"Jul","year":"2006","hour":21,"gw":1.146},{"day":"Wkd","month":"Jul","year":"2006","hour":21.5,"gw":1.106},{"day":"Wkd","month":"Jul","year":"2006","hour":22,"gw":1.048},{"day":"Wkd","month":"Jul","year":"2006","hour":23,"gw":0.955},{"day":"Wkd","month":"Jul","year":"2006","hour":23.5,"gw":0.908}
]},
"columns":6,
"spacing":1,
"align":"each",
"bounds":"flush",
"resolve":{"scale":{"color":"shared"},"legend":{"color":"shared"}},
"concat":[
{"width":175,"height":15,"view":{"fill":"#dcdcdc","stroke":null},"data":{"values":[{"lab":"Saturday"}]},"mark":{"type":"text","fontSize":7.5,"color":"#1a1a1a"},"encoding":{"text":{"field":"lab"}}},
{"width":3,"height":1,"data":{"values":[]},"mark":"point"},
{"width":175,"height":15,"view":{"fill":"#dcdcdc","stroke":null},"data":{"values":[{"lab":"Sunday"}]},"mark":{"type":"text","fontSize":7.5,"color":"#1a1a1a"},"encoding":{"text":{"field":"lab"}}},
{"width":3,"height":1,"data":{"values":[]},"mark":"point"},
{"width":175,"height":15,"view":{"fill":"#dcdcdc","stroke":null},"data":{"values":[{"lab":"Weekday"}]},"mark":{"type":"text","fontSize":7.5,"color":"#1a1a1a"},"encoding":{"text":{"field":"lab"}}},
{"width":15,"height":1,"data":{"values":[]},"mark":"point"},

{"width":175,"height":115,"view":{"fill":"#f2f2f2","stroke":null},
 "encoding":{
  "x":{"field":"hour","type":"quantitative","scale":{"domain":[-1.175,24.675],"nice":false,"zero":false},"axis":{"title":null,"values":[0,1.5,3,4.5,6,7.5,9,10.5,12,13.5,15,16.5,18,19.5,21,22.5,24],"labels":false,"ticks":false,"domain":false,"gridColor":"white","gridWidth":{"condition":{"test":"datum.value % 3 === 0 && datum.value > 0 && datum.value < 24","value":1.1},"value":0.5}}},
  "y":{"field":"gw","type":"quantitative","scale":{"domain":[0.62,1.435],"nice":false,"zero":false},"axis":{"title":"Normalised mean GW","titleY":116.5,"titleFontSize":9.5,"titleFontWeight":"normal","titleColor":"#000000","titlePadding":5,"values":[0.7,0.8,0.9,1.0,1.1,1.2,1.3,1.4],"labelExpr":"round(datum.value*10) % 2 === 0 ? format(datum.value, '.1f') : ''","labelFontSize":7.5,"labelColor":"#4d4d4d","labelPadding":2,"tickSize":3,"tickColor":"#333333","tickWidth":0.6,"tickOpacity":{"condition":{"test":"round(datum.value*10) % 2 === 0","value":1},"value":0},"domain":false,"gridColor":"white","gridWidth":{"condition":{"test":"round(datum.value*10) % 2 === 0","value":1.1},"value":0.5}}}
 },
 "layer":[
  {"data":{"name":"demand"},"transform":[{"filter":"datum.day === 'Sat' && datum.month === 'Jan'"}],"mark":{"type":"line","strokeWidth":1,"interpolate":"monotone"},"encoding":{"color":{"field":"year","type":"nominal","title":null,"scale":{"domain":["2006","2011","2016"],"range":["#d0d0d0","#9c9c9c","#222222"]},"legend":{"orient":"none","legendX":218,"legendY":311,"direction":"horizontal","symbolType":"stroke","symbolSize":180,"symbolStrokeWidth":1.2,"labelFontSize":7.5,"labelColor":"#1a1a1a","labelOffset":3,"columnPadding":3}}}},
  {"data":{"name":"peak"},"mark":{"type":"rect","fill":"#9ecae1","fillOpacity":0.3,"stroke":"#1f7bb6","strokeWidth":1.2},"encoding":{"x2":{"field":"hour2"},"y2":{"field":"gw2"}}}
 ]},
{"width":3,"height":1,"data":{"values":[]},"mark":"point"},
{"width":175,"height":115,"view":{"fill":"#f2f2f2","stroke":null},
 "encoding":{
  "x":{"field":"hour","type":"quantitative","scale":{"domain":[-1.175,24.675],"nice":false,"zero":false},"axis":{"title":null,"values":[0,1.5,3,4.5,6,7.5,9,10.5,12,13.5,15,16.5,18,19.5,21,22.5,24],"labels":false,"ticks":false,"domain":false,"gridColor":"white","gridWidth":{"condition":{"test":"datum.value % 3 === 0 && datum.value > 0 && datum.value < 24","value":1.1},"value":0.5}}},
  "y":{"field":"gw","type":"quantitative","scale":{"domain":[0.62,1.435],"nice":false,"zero":false},"axis":{"title":null,"values":[0.7,0.8,0.9,1.0,1.1,1.2,1.3,1.4],"labels":false,"ticks":false,"domain":false,"gridColor":"white","gridWidth":{"condition":{"test":"round(datum.value*10) % 2 === 0","value":1.1},"value":0.5}}}
 },
 "layer":[
  {"data":{"name":"demand"},"transform":[{"filter":"datum.day === 'Sun' && datum.month === 'Jan'"}],"mark":{"type":"line","strokeWidth":1,"interpolate":"monotone"},"encoding":{"color":{"field":"year","type":"nominal","title":null,"scale":{"domain":["2006","2011","2016"],"range":["#d0d0d0","#9c9c9c","#222222"]},"legend":{"orient":"none","legendX":218,"legendY":311,"direction":"horizontal","symbolType":"stroke","symbolSize":180,"symbolStrokeWidth":1.2,"labelFontSize":7.5,"labelColor":"#1a1a1a","labelOffset":3,"columnPadding":3}}}},
  {"data":{"name":"peak"},"mark":{"type":"rect","fill":"#9ecae1","fillOpacity":0.3,"stroke":"#1f7bb6","strokeWidth":1.2},"encoding":{"x2":{"field":"hour2"},"y2":{"field":"gw2"}}}
 ]},
{"width":3,"height":1,"data":{"values":[]},"mark":"point"},
{"width":175,"height":115,"view":{"fill":"#f2f2f2","stroke":null},
 "encoding":{
  "x":{"field":"hour","type":"quantitative","scale":{"domain":[-1.175,24.675],"nice":false,"zero":false},"axis":{"title":null,"values":[0,1.5,3,4.5,6,7.5,9,10.5,12,13.5,15,16.5,18,19.5,21,22.5,24],"labels":false,"ticks":false,"domain":false,"gridColor":"white","gridWidth":{"condition":{"test":"datum.value % 3 === 0 && datum.value > 0 && datum.value < 24","value":1.1},"value":0.5}}},
  "y":{"field":"gw","type":"quantitative","scale":{"domain":[0.62,1.435],"nice":false,"zero":false},"axis":{"title":null,"values":[0.7,0.8,0.9,1.0,1.1,1.2,1.3,1.4],"labels":false,"ticks":false,"domain":false,"gridColor":"white","gridWidth":{"condition":{"test":"round(datum.value*10) % 2 === 0","value":1.1},"value":0.5}}}
 },
 "layer":[
  {"data":{"name":"demand"},"transform":[{"filter":"datum.day === 'Wkd' && datum.month === 'Jan'"}],"mark":{"type":"line","strokeWidth":1,"interpolate":"monotone"},"encoding":{"color":{"field":"year","type":"nominal","title":null,"scale":{"domain":["2006","2011","2016"],"range":["#d0d0d0","#9c9c9c","#222222"]},"legend":{"orient":"none","legendX":218,"legendY":311,"direction":"horizontal","symbolType":"stroke","symbolSize":180,"symbolStrokeWidth":1.2,"labelFontSize":7.5,"labelColor":"#1a1a1a","labelOffset":3,"columnPadding":3}}}},
  {"data":{"name":"peak"},"mark":{"type":"rect","fill":"#9ecae1","fillOpacity":0.3,"stroke":"#1f7bb6","strokeWidth":1.2},"encoding":{"x2":{"field":"hour2"},"y2":{"field":"gw2"}}}
 ]},
{"width":15,"height":115,"view":{"fill":"#dcdcdc","stroke":null},"data":{"values":[{"lab":"Jan"}]},"mark":{"type":"text","fontSize":7.5,"color":"#1a1a1a","angle":90},"encoding":{"text":{"field":"lab"}}},

{"width":175,"height":3,"data":{"values":[]},"mark":"point"},
{"width":3,"height":3,"data":{"values":[]},"mark":"point"},
{"width":175,"height":3,"data":{"values":[]},"mark":"point"},
{"width":3,"height":3,"data":{"values":[]},"mark":"point"},
{"width":175,"height":3,"data":{"values":[]},"mark":"point"},
{"width":15,"height":3,"data":{"values":[]},"mark":"point"},

{"width":175,"height":115,"view":{"fill":"#f2f2f2","stroke":null},
 "encoding":{
  "x":{"field":"hour","type":"quantitative","scale":{"domain":[-1.175,24.675],"nice":false,"zero":false},"axis":{"title":null,"values":[0,1.5,3,4.5,6,7.5,9,10.5,12,13.5,15,16.5,18,19.5,21,22.5,24],"labelExpr":"datum.value % 3 === 0 && datum.value > 0 && datum.value < 24 ? (datum.value < 10 ? '0' : '') + datum.value + ':00:00' : ''","labelAngle":270,"labelFontSize":7.5,"labelColor":"#4d4d4d","labelPadding":2,"labelOverlap":false,"labelFlush":false,"tickSize":3,"tickColor":"#333333","tickWidth":0.6,"tickOpacity":{"condition":{"test":"datum.value % 3 === 0 && datum.value > 0 && datum.value < 24","value":1},"value":0},"domain":false,"gridColor":"white","gridWidth":{"condition":{"test":"datum.value % 3 === 0 && datum.value > 0 && datum.value < 24","value":1.1},"value":0.5}}},
  "y":{"field":"gw","type":"quantitative","scale":{"domain":[0.62,1.435],"nice":false,"zero":false},"axis":{"title":null,"values":[0.7,0.8,0.9,1.0,1.1,1.2,1.3,1.4],"labelExpr":"round(datum.value*10) % 2 === 0 ? format(datum.value, '.1f') : ''","labelFontSize":7.5,"labelColor":"#4d4d4d","labelPadding":2,"tickSize":3,"tickColor":"#333333","tickWidth":0.6,"tickOpacity":{"condition":{"test":"round(datum.value*10) % 2 === 0","value":1},"value":0},"domain":false,"gridColor":"white","gridWidth":{"condition":{"test":"round(datum.value*10) % 2 === 0","value":1.1},"value":0.5}}}
 },
 "layer":[
  {"data":{"name":"demand"},"transform":[{"filter":"datum.day === 'Sat' && datum.month === 'Jul'"}],"mark":{"type":"line","strokeWidth":1,"interpolate":"monotone"},"encoding":{"color":{"field":"year","type":"nominal","title":null,"scale":{"domain":["2006","2011","2016"],"range":["#d0d0d0","#9c9c9c","#222222"]},"legend":{"orient":"none","legendX":218,"legendY":311,"direction":"horizontal","symbolType":"stroke","symbolSize":180,"symbolStrokeWidth":1.2,"labelFontSize":7.5,"labelColor":"#1a1a1a","labelOffset":3,"columnPadding":3}}}},
  {"data":{"name":"peak"},"mark":{"type":"rect","fill":"#9ecae1","fillOpacity":0.3,"stroke":"#1f7bb6","strokeWidth":1.2},"encoding":{"x2":{"field":"hour2"},"y2":{"field":"gw2"}}}
 ]},
{"width":3,"height":1,"data":{"values":[]},"mark":"point"},
{"width":175,"height":115,"view":{"fill":"#f2f2f2","stroke":null},
 "encoding":{
  "x":{"field":"hour","type":"quantitative","scale":{"domain":[-1.175,24.675],"nice":false,"zero":false},"axis":{"title":"Time of Day","titleFontSize":9.5,"titleFontWeight":"normal","titleColor":"#000000","titlePadding":10,"values":[0,1.5,3,4.5,6,7.5,9,10.5,12,13.5,15,16.5,18,19.5,21,22.5,24],"labelExpr":"datum.value % 3 === 0 && datum.value > 0 && datum.value < 24 ? (datum.value < 10 ? '0' : '') + datum.value + ':00:00' : ''","labelAngle":270,"labelFontSize":7.5,"labelColor":"#4d4d4d","labelPadding":2,"labelOverlap":false,"labelFlush":false,"tickSize":3,"tickColor":"#333333","tickWidth":0.6,"tickOpacity":{"condition":{"test":"datum.value % 3 === 0 && datum.value > 0 && datum.value < 24","value":1},"value":0},"domain":false,"gridColor":"white","gridWidth":{"condition":{"test":"datum.value % 3 === 0 && datum.value > 0 && datum.value < 24","value":1.1},"value":0.5}}},
  "y":{"field":"gw","type":"quantitative","scale":{"domain":[0.62,1.435],"nice":false,"zero":false},"axis":{"title":null,"values":[0.7,0.8,0.9,1.0,1.1,1.2,1.3,1.4],"labels":false,"ticks":false,"domain":false,"gridColor":"white","gridWidth":{"condition":{"test":"round(datum.value*10) % 2 === 0","value":1.1},"value":0.5}}}
 },
 "layer":[
  {"data":{"name":"demand"},"transform":[{"filter":"datum.day === 'Sun' && datum.month === 'Jul'"}],"mark":{"type":"line","strokeWidth":1,"interpolate":"monotone"},"encoding":{"color":{"field":"year","type":"nominal","title":null,"scale":{"domain":["2006","2011","2016"],"range":["#d0d0d0","#9c9c9c","#222222"]},"legend":{"orient":"none","legendX":218,"legendY":311,"direction":"horizontal","symbolType":"stroke","symbolSize":180,"symbolStrokeWidth":1.2,"labelFontSize":7.5,"labelColor":"#1a1a1a","labelOffset":3,"columnPadding":3}}}},
  {"data":{"name":"peak"},"mark":{"type":"rect","fill":"#9ecae1","fillOpacity":0.3,"stroke":"#1f7bb6","strokeWidth":1.2},"encoding":{"x2":{"field":"hour2"},"y2":{"field":"gw2"}}}
 ]},
{"width":3,"height":1,"data":{"values":[]},"mark":"point"},
{"width":175,"height":115,"view":{"fill":"#f2f2f2","stroke":null},
 "encoding":{
  "x":{"field":"hour","type":"quantitative","scale":{"domain":[-1.175,24.675],"nice":false,"zero":false},"axis":{"title":null,"values":[0,1.5,3,4.5,6,7.5,9,10.5,12,13.5,15,16.5,18,19.5,21,22.5,24],"labelExpr":"datum.value % 3 === 0 && datum.value > 0 && datum.value < 24 ? (datum.value < 10 ? '0' : '') + datum.value + ':00:00' : ''","labelAngle":270,"labelFontSize":7.5,"labelColor":"#4d4d4d","labelPadding":2,"labelOverlap":false,"labelFlush":false,"tickSize":3,"tickColor":"#333333","tickWidth":0.6,"tickOpacity":{"condition":{"test":"datum.value % 3 === 0 && datum.value > 0 && datum.value < 24","value":1},"value":0},"domain":false,"gridColor":"white","gridWidth":{"condition":{"test":"datum.value % 3 === 0 && datum.value > 0 && datum.value < 24","value":1.1},"value":0.5}}},
  "y":{"field":"gw","type":"quantitative","scale":{"domain":[0.62,1.435],"nice":false,"zero":false},"axis":{"title":null,"values":[0.7,0.8,0.9,1.0,1.1,1.2,1.3,1.4],"labels":false,"ticks":false,"domain":false,"gridColor":"white","gridWidth":{"condition":{"test":"round(datum.value*10) % 2 === 0","value":1.1},"value":0.5}}}
 },
 "layer":[
  {"data":{"name":"demand"},"transform":[{"filter":"datum.day === 'Wkd' && datum.month === 'Jul'"}],"mark":{"type":"line","strokeWidth":1,"interpolate":"monotone"},"encoding":{"color":{"field":"year","type":"nominal","title":null,"scale":{"domain":["2006","2011","2016"],"range":["#d0d0d0","#9c9c9c","#222222"]},"legend":{"orient":"none","legendX":218,"legendY":311,"direction":"horizontal","symbolType":"stroke","symbolSize":180,"symbolStrokeWidth":1.2,"labelFontSize":7.5,"labelColor":"#1a1a1a","labelOffset":3,"columnPadding":3}}}},
  {"data":{"name":"peak"},"mark":{"type":"rect","fill":"#9ecae1","fillOpacity":0.3,"stroke":"#1f7bb6","strokeWidth":1.2},"encoding":{"x2":{"field":"hour2"},"y2":{"field":"gw2"}}}
 ]},
{"width":15,"height":115,"view":{"fill":"#dcdcdc","stroke":null},"data":{"values":[{"lab":"Jul"}]},"mark":{"type":"text","fontSize":7.5,"color":"#1a1a1a","angle":90},"encoding":{"text":{"field":"lab"}}}
],
"title":{"text":["Source: National Grid half-hourly demand data (England & Wales) 2006-2016","Peak demand period shown shaded"],"orient":"bottom","anchor":"end","align":"right","fontSize":8.4,"fontWeight":"normal","color":"#000000","lineHeight":11,"offset":12,"dx":-8},
"config":{"font":"Liberation Sans","view":{"stroke":null},"axis":{"labelFont":"Liberation Sans","titleFont":"Liberation Sans"}}
}
